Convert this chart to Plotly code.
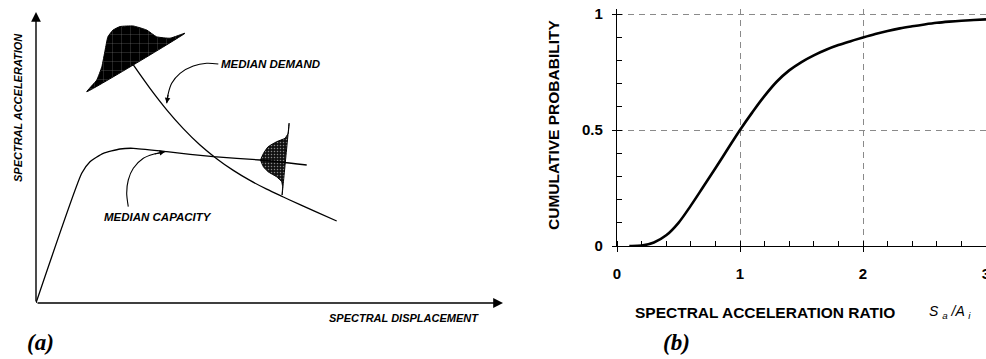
import plotly.graph_objects as go

# ---------------- Panel (a): schematic (arbitrary units 0-10) ----------------
capacity_sd = [0.0, 0.979, 1.156, 1.441, 1.799, 2.084, 2.799, 3.797, 4.797, 5.797]
capacity_sa = [0.0, 4.457, 4.856, 5.144, 5.292, 5.316, 5.199, 5.027, 4.914, 4.742]

demand_sd = [2.084, 2.441, 2.799, 3.154, 3.512, 3.869, 4.225, 4.582, 4.940, 5.296, 5.653, 6.011, 6.439]
demand_sa = [8.179, 7.375, 6.639, 5.993, 5.430, 4.960, 4.557, 4.213, 3.911, 3.643, 3.378, 3.120, 2.818]

demand_dist_sd = [1.086, 1.30, 1.41, 1.48, 1.54, 1.65, 1.80, 2.08, 2.37, 2.58, 2.87, 3.19, 1.086]
demand_dist_sa = [7.26, 7.66, 8.12, 8.69, 9.15, 9.38, 9.50, 9.52, 9.38, 9.15, 9.10, 9.27, 7.26]

capacity_dist_sd = [5.42, 5.40, 5.33, 5.15, 4.97, 4.87, 4.81, 4.87, 4.97, 5.15, 5.26, 5.28, 5.27, 5.42]
capacity_dist_sa = [6.18, 5.83, 5.66, 5.54, 5.37, 5.14, 4.91, 4.68, 4.51, 4.34, 4.17, 4.00, 3.71, 6.18]

demand_leader_sd = [3.904, 3.655, 3.368, 3.084, 2.906, 2.833, 2.799]
demand_leader_sa = [8.213, 8.237, 8.144, 7.893, 7.550, 7.206, 6.863]

capacity_leader_sd = [1.976, 1.942, 1.976, 2.084, 2.298, 2.512, 2.762]
capacity_leader_sa = [3.309, 3.770, 4.227, 4.629, 4.973, 5.110, 5.199]

# ---------------- Panel (b): cumulative probability ----------------
sa_ratio = [0.10, 0.20, 0.30, 0.40, 0.50, 0.60, 0.70, 0.80, 0.90, 1.00,
            1.10, 1.20, 1.30, 1.40, 1.50, 1.60, 1.70, 1.80, 1.90, 2.00,
            2.10, 2.20, 2.30, 2.40, 2.50, 2.60, 2.70, 2.80, 2.90, 3.00]
cum_prob = [0.000, 0.002, 0.015, 0.046, 0.100, 0.174, 0.254, 0.335, 0.418, 0.500,
            0.576, 0.647, 0.709, 0.757, 0.793, 0.822, 0.846, 0.866, 0.883, 0.899,
            0.914, 0.927, 0.938, 0.947, 0.955, 0.962, 0.967, 0.971, 0.974, 0.977]

x_tick_vals_b = [0, 1, 2, 3]
x_tick_text_b = ["0", "1", "2", "3"]
y_tick_vals_b = [0, 0.5, 1]
y_tick_text_b = ["0", "0.5", "1"]

W, H = 986, 359
LBL = dict(family="Liberation Sans, Arial", size=11, color="black",
           style="italic", weight="bold")
BOLD = dict(family="Liberation Sans, Arial", size=15.5, color="black", weight="bold")
TICKF = dict(family="Liberation Sans, Arial", size=15, color="black", weight="bold")

fig = go.Figure()

# distributions
fig.add_trace(go.Scatter(x=demand_dist_sd, y=demand_dist_sa, mode="lines", fill="toself",
                         fillcolor="black", line=dict(color="black", width=1, shape="spline",
                                                      smoothing=0.4),
                         fillpattern=dict(shape="+", fgcolor="white", bgcolor="black",
                                          size=9, solidity=0.06),
                         xaxis="x", yaxis="y", hoverinfo="skip"))
fig.add_trace(go.Scatter(x=capacity_dist_sd, y=capacity_dist_sa, mode="lines", fill="toself",
                         fillcolor="black", line=dict(color="black", width=1, shape="spline",
                                                      smoothing=0.4),
                         fillpattern=dict(shape=".", fgcolor="white", bgcolor="#111",
                                          size=3, solidity=0.2),
                         xaxis="x", yaxis="y", hoverinfo="skip"))
# curves
fig.add_trace(go.Scatter(x=capacity_sd, y=capacity_sa, mode="lines",
                         line=dict(color="black", width=1.3, shape="spline", smoothing=0.5),
                         xaxis="x", yaxis="y"))
fig.add_trace(go.Scatter(x=demand_sd, y=demand_sa, mode="lines",
                         line=dict(color="black", width=1.3, shape="spline", smoothing=1.0),
                         xaxis="x", yaxis="y"))
fig.add_trace(go.Scatter(x=demand_leader_sd, y=demand_leader_sa, mode="lines",
                         line=dict(color="black", width=1.1, shape="spline", smoothing=0.8),
                         xaxis="x", yaxis="y"))
fig.add_trace(go.Scatter(x=capacity_leader_sd, y=capacity_leader_sa, mode="lines",
                         line=dict(color="black", width=1.1, shape="spline", smoothing=0.8),
                         xaxis="x", yaxis="y"))

# panel (b) curve
fig.add_trace(go.Scatter(x=sa_ratio, y=cum_prob, mode="lines",
                         line=dict(color="black", width=2.6, shape="spline", smoothing=1.0),
                         xaxis="x2", yaxis="y2", cliponaxis=False))

annotations = []
arrow = dict(xref="x", yref="y", axref="x", ayref="y", text="", showarrow=True,
             arrowcolor="black")
# panel (a) axes as arrows
annotations.append(dict(arrow, x=0, y=10, ax=0, ay=0, arrowhead=2, arrowsize=1.4,
                        arrowwidth=1.4))
annotations.append(dict(arrow, x=10, y=0, ax=0, ay=0, arrowhead=2, arrowsize=1.4,
                        arrowwidth=1.4))
# leader arrowheads
annotations.append(dict(arrow, x=demand_leader_sd[-1], y=demand_leader_sa[-1],
                        ax=demand_leader_sd[-2], ay=demand_leader_sa[-2],
                        arrowhead=2, arrowsize=1.0, arrowwidth=1.1))
annotations.append(dict(arrow, x=capacity_leader_sd[-1], y=capacity_leader_sa[-1],
                        ax=capacity_leader_sd[-2], ay=capacity_leader_sa[-2],
                        arrowhead=2, arrowsize=1.0, arrowwidth=1.1))
# panel (a) texts
annotations.append(dict(x=18 / W, y=1 - 108 / H, xref="paper", yref="paper",
                        text="SPECTRAL ACCELERATION", textangle=-90, showarrow=False,
                        font=LBL, xanchor="center", yanchor="middle"))
annotations.append(dict(x=404 / W, y=1 - 318 / H, xref="paper", yref="paper",
                        text="SPECTRAL DISPLACEMENT", showarrow=False,
                        font=LBL, xanchor="center", yanchor="middle"))
annotations.append(dict(x=219 / W, y=1 - 64 / H, xref="paper", yref="paper",
                        text="MEDIAN DEMAND", showarrow=False,
                        font=dict(LBL, size=11.5), xanchor="left", yanchor="middle"))
annotations.append(dict(x=157.5 / W, y=1 - 217.5 / H, xref="paper", yref="paper",
                        text="MEDIAN CAPACITY", showarrow=False,
                        font=dict(LBL, size=11.5), xanchor="center", yanchor="middle"))
PANEL = dict(family="Liberation Serif, Times New Roman", size=23, color="black",
             style="italic", weight="bold")
annotations.append(dict(x=40 / W, y=1 - 342 / H, xref="paper", yref="paper",
                        text="(a)", showarrow=False, font=PANEL,
                        xanchor="center", yanchor="middle"))
annotations.append(dict(x=676 / W, y=1 - 342 / H, xref="paper", yref="paper",
                        text="(b)", showarrow=False, font=PANEL,
                        xanchor="center", yanchor="middle"))
# panel (b) titles
annotations.append(dict(x=553 / W, y=1 - 125 / H, xref="paper", yref="paper",
                        text="CUMULATIVE PROBABILITY", textangle=-90, showarrow=False,
                        font=BOLD, xanchor="center", yanchor="middle"))
annotations.append(dict(x=764.5 / W, y=1 - 312 / H, xref="paper", yref="paper",
                        text="SPECTRAL ACCELERATION RATIO", showarrow=False,
                        font=BOLD, xanchor="center", yanchor="middle"))
annotations.append(dict(x=927 / W, y=1 - 312 / H, xref="paper", yref="paper",
                        text="S <sub>a</sub> /A <sub>i</sub>", showarrow=False,
                        font=dict(family="Liberation Sans, Arial", size=14, color="black",
                                  style="italic"),
                        xanchor="left", yanchor="middle"))

fig.update_layout(
    width=W, height=H, autosize=False,
    margin=dict(l=0, r=0, t=0, b=0, pad=0, autoexpand=False),
    paper_bgcolor="white", plot_bgcolor="rgba(0,0,0,0)",
    showlegend=False,
    annotations=annotations,
    xaxis=dict(domain=[36 / W, 503 / W], range=[0, 10], visible=False, anchor="y"),
    yaxis=dict(domain=[56 / H, 347 / H], range=[0, 10], visible=False, anchor="x"),
    xaxis2=dict(domain=[617 / W, 1.0], range=[0, 3], anchor="y2", automargin=False,
                tickmode="array", tickvals=x_tick_vals_b, ticktext=x_tick_text_b,
                ticks="outside", ticklen=5, tickwidth=1.2, tickcolor="black",
                showline=True, linecolor="black", linewidth=1.3,
                showgrid=True, gridcolor="#8a8a8a", gridwidth=1, griddash="6px,5px",
                zeroline=False, tickfont=TICKF, ticklabelstandoff=9,
                ticklabeloverflow="allow",
                minor=dict(tickmode="linear", tick0=0, dtick=0.2, ticks="inside", ticklen=5,
                           tickwidth=1, tickcolor="black", showgrid=False)),
    yaxis2=dict(domain=[1 - 246 / H, 1 - 246 / H + 1.02 * 232 / H], range=[0, 1.02],
                anchor="x2", automargin=False,
                tickmode="array", tickvals=y_tick_vals_b, ticktext=y_tick_text_b,
                ticks="outside", ticklen=4, tickwidth=1.2, tickcolor="black",
                showline=True, linecolor="black", linewidth=1.3,
                showgrid=True, gridcolor="#8a8a8a", gridwidth=1, griddash="6px,5px",
                zeroline=False, tickfont=TICKF, ticklabelstandoff=6,
                minor=dict(tickmode="linear", tick0=0, dtick=0.1, ticks="inside", ticklen=5,
                           tickwidth=1, tickcolor="black", showgrid=False)),
)

fig.write_html("out.html", config={"displayModeBar": False},
               post_script="document.body.style.margin='0';")
